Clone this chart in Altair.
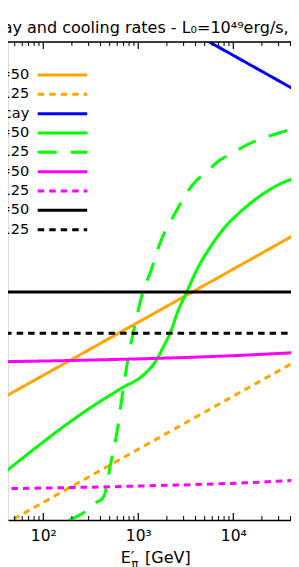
import altair as alt
import pandas as pd

# ---- data (E' in GeV, rate in 1/s) ----
orange50_E = [30, 100, 1000, 10000, 50000]
orange50_r = [1.6e-4, 5.3e-4, 5.3e-3, 5.3e-2, 0.265]
orange125_E = [30, 100, 1000, 10000, 50000]
orange125_r = [6.4e-7, 2.15e-6, 2.15e-5, 2.15e-4, 1.07e-3]
blue_E = [1000, 10000, 50000]
blue_r = [5.6e3, 5.6e2, 1.12e2]
green50_E = [35, 400, 670, 1130, 1500, 1830, 2160, 2640, 3230, 4120, 5690,
             7850, 11800, 19100, 31000, 49200]
green50_r = [6.7e-6, 1.73e-4, 3.05e-4, 5.36e-4, 9.4e-4, 1.8e-3, 3.3e-3, 9.0e-3,
             1.96e-2, 5.1e-2, 0.135, 0.301, 0.628, 1.26, 2.12, 2.87]
green125_E = [183, 264, 365, 415, 446, 504, 593, 695, 785, 885, 1130, 1330, 1690,
              2430, 3790, 5250, 7240, 10000, 13800, 20700, 29800, 49200]
green125_r = [9.7e-7, 1.37e-6, 2.17e-6, 2.48e-6, 3.17e-6, 1.0e-5, 4.28e-5, 3.01e-4,
              1.18e-3, 3.38e-3, 2.09e-2, 4.41e-2, 0.162, 0.594, 2.12, 3.61, 6.0,
              8.22, 11.5, 15.7, 19.1, 26.2]
magenta50_E = [35, 310, 11780, 49200]
magenta50_r = [9.53e-4, 1.026e-3, 1.259e-3, 1.432e-3]
magenta125_E = [35, 1330, 13270, 49200]
magenta125_r = [3.87e-6, 4.41e-6, 5.01e-6, 5.64e-6]
black50_E = [30, 50000]
black50_r = [1.96e-2, 1.96e-2]
black125_E = [30, 50000]
black125_r = [3.27e-3, 3.27e-3]

series_keys = ["s1", "s2", "s3", "s4", "s5", "s6", "s7", "s8", "s9"]
legend_labels = ["=50", "125", "cay", "=50", "125", "=50", "125", "=50", "125"]
series_data = [(orange50_E, orange50_r), (orange125_E, orange125_r), (blue_E, blue_r),
               (green50_E, green50_r), (green125_E, green125_r),
               (magenta50_E, magenta50_r), (magenta125_E, magenta125_r),
               (black50_E, black50_r), (black125_E, black125_r)]

title_text = "ay and cooling rates - L\u2080=10\u2074\u2079erg/s,"
major_ticks = [100, 1000, 10000]
tick_labels = ["10\u00b2", "10\u00b3", "10\u2074"]
X_MIN, X_MAX = 42.5, 40500
minor_ticks = [k * 10 ** d for d in range(1, 5) for k in range(2, 10)
               if X_MIN < k * 10 ** d < X_MAX]

# ---- styles ----
colors = ["#FFA500", "#FFA500", "#0000FF", "#00FF00", "#00FF00",
          "#FF00FF", "#FF00FF", "#000000", "#000000"]
dashes = [[1, 0], [6.5, 5], [1, 0], [1, 0], [19, 14], [1, 0], [6.5, 5], [1, 0], [6.5, 5]]

rows = []
for key, (es, rs) in zip(series_keys, series_data):
    for e, r in zip(es, rs):
        rows.append({"series": key, "E": e, "rate": r})
df = pd.DataFrame(rows)
leg = pd.DataFrame({"series": series_keys, "label": legend_labels,
                    "row": list(range(len(series_keys)))})

W, H = 283, 478
FONT = "DejaVu Sans"

xscale = alt.Scale(type="log", domain=[X_MIN, X_MAX], nice=False)
yscale = alt.Scale(type="log", domain=[1e-6, 1e3], nice=False)
cscale = alt.Scale(domain=series_keys, range=colors)
dscale = alt.Scale(domain=series_keys, range=dashes)
rowscale = alt.Scale(type="point", domain=list(range(len(series_keys))),
                     range=[33, 187.7], padding=0)

expr = "''"
for v, lab in reversed(list(zip(major_ticks, tick_labels))):
    expr = f"datum.value == {v} ? '{lab}' : ({expr})"

xaxis = alt.Axis(values=major_ticks, labelExpr=expr, title=None, grid=False,
                 ticks=False, tickSize=0, domain=True, domainColor="black",
                 domainWidth=1.3, labelFont=FONT, labelFontSize=15.5,
                 labelColor="black", labelPadding=8)

lines = alt.Chart(df).mark_line(strokeWidth=3, clip=True, interpolate="monotone").encode(
    x=alt.X("E:Q", scale=xscale, axis=xaxis),
    y=alt.Y("rate:Q", scale=yscale, axis=None),
    color=alt.Color("series:N", scale=cscale, legend=None),
    strokeDash=alt.StrokeDash("series:N", scale=dscale, legend=None),
)


def tick_layer(vals, y0, y1, w):
    return alt.Chart(pd.DataFrame({"E": vals})).mark_rule(color="black", strokeWidth=w).encode(
        x=alt.X("E:Q", scale=xscale, axis=xaxis),
        y=alt.value(y0), y2=alt.value(y1))


ticks = [tick_layer(major_ticks, 0, 7, 1.2), tick_layer(major_ticks, H, H - 7, 1.2),
         tick_layer(minor_ticks, 0, 4, 1.0), tick_layer(minor_ticks, H, H - 4, 1.0)]

top_spine = alt.Chart(alt.Data(values=[{}])).mark_rule(color="black", strokeWidth=1.3).encode(
    x=alt.value(0), x2=alt.value(W), y=alt.value(0))

leg_lines = alt.Chart(leg).mark_rule(strokeWidth=3).encode(
    x=alt.value(29.7), x2=alt.value(79.2),
    y=alt.Y("row:O", scale=rowscale, axis=None),
    color=alt.Color("series:N", scale=cscale, legend=None),
    strokeDash=alt.StrokeDash("series:N", scale=dscale, legend=None),
)
leg_text = alt.Chart(leg).mark_text(align="right", baseline="middle", font=FONT,
                                    fontSize=14.5, color="black").encode(
    x=alt.value(21.3),
    y=alt.Y("row:O", scale=rowscale, axis=None),
    text="label:N",
)


def txt(s, x, y, size):
    return alt.Chart(alt.Data(values=[{}])).mark_text(
        text=s, align="left", baseline="alphabetic", font=FONT, fontSize=size,
        color="black").encode(x=alt.value(x), y=alt.value(y))


title = txt(title_text, -5.3, -9, 16)
xlabel = [txt("E\u2032", 112.7, 521.4, 16),
          txt("\u03c0", 123.4, 525.5, 11.5), txt("[GeV]", 137, 521.4, 16)]

chart = alt.layer(lines, *ticks, top_spine, leg_lines, leg_text, title, *xlabel).resolve_scale(
    y="independent"
).properties(
    width=W, height=H,
    autosize=alt.AutoSizeParams(type="none"),
    padding={"left": 0, "top": 34, "right": 0, "bottom": 47},
).configure_view(stroke=None).configure(background="white")

chart.save("out.html", embed_options={"renderer": "svg", "actions": False})
